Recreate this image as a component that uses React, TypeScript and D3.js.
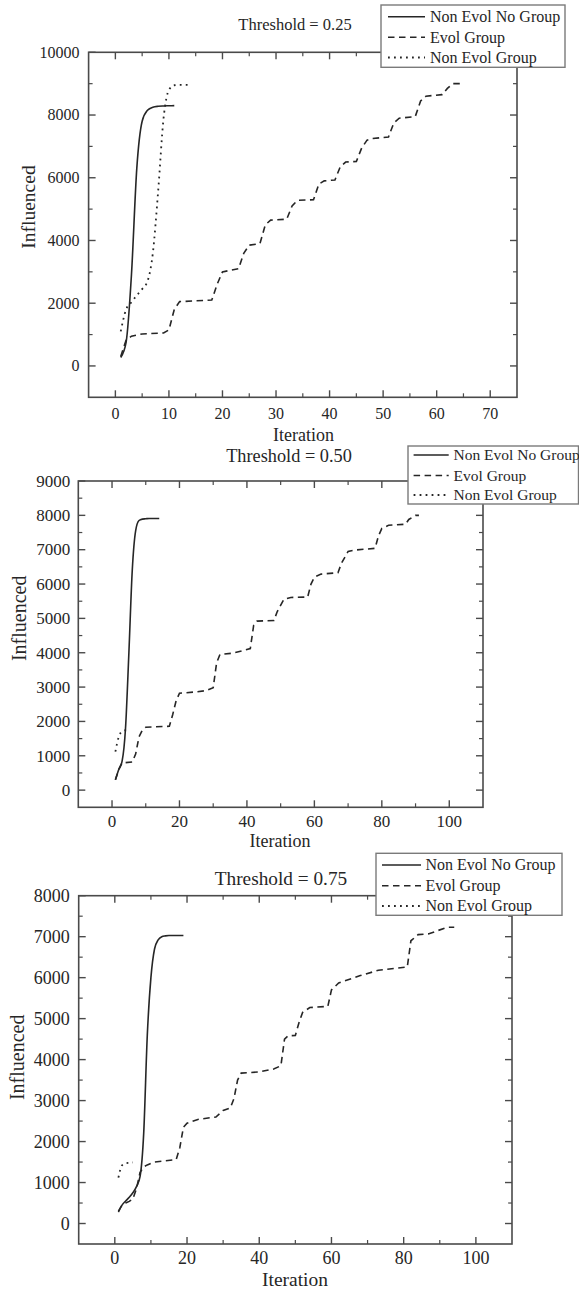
import React from 'react';
import * as d3 from 'd3';

const SERIES_NAMES = ['Non Evol No Group', 'Evol Group', 'Non Evol Group'];
const TITLES = ['Threshold = 0.25', 'Threshold = 0.50', 'Threshold = 0.75'];
const X_LABEL = 'Iteration';
const Y_LABEL = 'Influenced';

// ---------- Panel 1 : threshold 0.25 ----------
const p1SolidX = [1, 2, 3, 4, 5, 6, 7, 8, 9, 10, 11];
const p1SolidY = [270, 750, 2900, 6300, 7800, 8150, 8250, 8280, 8290, 8295, 8300];
const p1EvolX = [1, 2, 3, 5, 9, 10, 11, 12, 18, 19, 20, 23, 24, 25, 27, 28, 29, 32, 33, 34, 37, 38, 39, 41, 42, 43, 45, 46, 47, 48, 51, 52, 53, 56, 57, 58, 61, 62, 63, 65];
const p1EvolY = [300, 820, 950, 1020, 1050, 1150, 1800, 2050, 2100, 2600, 3000, 3100, 3600, 3850, 3900, 4500, 4650, 4680, 5100, 5280, 5300, 5800, 5900, 5930, 6350, 6500, 6520, 6950, 7200, 7250, 7300, 7750, 7900, 7950, 8450, 8600, 8650, 8850, 9000, 9000];
const p1DotX = [1, 2, 3, 4, 5, 6, 7, 8, 9, 10, 11, 12, 13, 14];
const p1DotY = [1100, 1800, 2030, 2250, 2450, 2700, 3600, 5600, 7900, 8800, 8950, 8960, 8960, 8960];
const p1XMajor = [0, 10, 20, 30, 40, 50, 60, 70];
const p1XMinor = [5, 15, 25, 35, 45, 55, 65];
const p1YMajor = [0, 2000, 4000, 6000, 8000, 10000];
const p1YMinor = [1000, 3000, 5000, 7000, 9000];

// ---------- Panel 2 : threshold 0.50 ----------
const p2SolidX = [1, 2, 3, 4, 5, 6, 7, 8, 9, 10, 11, 12, 13, 14];
const p2SolidY = [300, 600, 850, 1800, 4000, 6400, 7550, 7850, 7890, 7900, 7910, 7910, 7910, 7910];
const p2EvolX = [1, 2, 3, 4, 6, 7, 8, 9, 10, 17, 18, 19, 20, 25, 28, 30, 31, 32, 36, 41, 42, 43, 48, 49, 51, 53, 58, 59, 60, 62, 67, 68, 70, 72, 78, 79, 80, 82, 87, 88, 90, 91];
const p2EvolY = [300, 600, 800, 800, 820, 1050, 1550, 1750, 1830, 1860, 2200, 2600, 2820, 2860, 2900, 2980, 3700, 3950, 3990, 4120, 4800, 4920, 4940, 5200, 5560, 5610, 5620, 6000, 6200, 6290, 6330, 6600, 6950, 6990, 7040, 7400, 7620, 7710, 7740, 7880, 8000, 8000];
const p2DotX = [1, 2, 3, 4, 5];
const p2DotY = [1120, 1550, 1710, 1740, 1740];
const p2XMajor = [0, 20, 40, 60, 80, 100];
const p2XMinor = [10, 30, 50, 70, 90];
const p2YMajor = [0, 1000, 2000, 3000, 4000, 5000, 6000, 7000, 8000, 9000];
const p2YMinor = [500, 1500, 2500, 3500, 4500, 5500, 6500, 7500, 8500];

// ---------- Panel 3 : threshold 0.75 ----------
const p3SolidX = [1, 2, 3, 4, 5, 6, 7, 8, 9, 10, 11, 12, 13, 14, 15, 16, 17, 18, 19];
const p3SolidY = [280, 450, 550, 640, 750, 900, 1150, 2200, 4600, 6000, 6700, 6920, 7000, 7020, 7030, 7030, 7030, 7030, 7030];
const p3EvolX = [1, 2, 3, 4, 5, 6, 7, 8, 9, 11, 17, 18, 19, 20, 23, 28, 30, 32, 33, 34, 35, 40, 44, 46, 47, 48, 50, 51, 52, 54, 59, 60, 62, 68, 73, 81, 82, 84, 87, 92, 94];
const p3EvolY = [300, 450, 500, 540, 600, 850, 1250, 1380, 1430, 1500, 1560, 1850, 2350, 2450, 2540, 2600, 2760, 2820, 3050, 3500, 3670, 3700, 3770, 3850, 4500, 4580, 4590, 4900, 5150, 5270, 5300, 5700, 5870, 6050, 6180, 6260, 6900, 7050, 7070, 7230, 7230];
const p3DotX = [1, 2, 3, 4, 5];
const p3DotY = [1120, 1420, 1470, 1480, 1490];
const p3XMajor = [0, 20, 40, 60, 80, 100];
const p3XMinor = [10, 30, 50, 70, 90];
const p3YMajor = [0, 1000, 2000, 3000, 4000, 5000, 6000, 7000, 8000];
const p3YMinor = [500, 1500, 2500, 3500, 4500, 5500, 6500, 7500];

const FONT = '"Liberation Serif", "Times New Roman", Times, serif';
const INK = '#262626';
const FRAME = '#4a4a4a';

type Layout = {
  left: number; right: number; top: number; bottom: number;
  xDomain: [number, number]; yDomain: [number, number];
  tickFont: number; titleFont: number; labelFont: number; xLabelFont: number; legendFont: number;
  titleX: number; titleY: number;
  xLabelX: number; xLabelY: number; yLabelX: number; yLabelY: number;
  xTickY: number; yTickGap: number;
  legend: { x0: number; x1: number; y0: number; y1: number; s0: number; s1: number; tx: number; rows: number[] };
};

type PanelData = {
  title: string;
  solid: [number[], number[]]; evol: [number[], number[]]; dot: [number[], number[]];
  xMajor: number[]; xMinor: number[]; yMajor: number[]; yMinor: number[];
};

const panels: { d: PanelData; l: Layout }[] = [
  {
    d: { title: TITLES[0], solid: [p1SolidX, p1SolidY], evol: [p1EvolX, p1EvolY], dot: [p1DotX, p1DotY], xMajor: p1XMajor, xMinor: p1XMinor, yMajor: p1YMajor, yMinor: p1YMinor },
    l: {
      left: 88.6, right: 517, top: 52.3, bottom: 397.3, xDomain: [-5, 75], yDomain: [-1000, 10000],
      tickFont: 16, titleFont: 16.5, labelFont: 19.5, xLabelFont: 18, legendFont: 16,
      titleX: 295, titleY: 29.5, xLabelX: 303.5, xLabelY: 440.5, yLabelX: 35, yLabelY: 207,
      xTickY: 419, yTickGap: 9,
      legend: { x0: 381, x1: 565, y0: 5, y1: 67.3, s0: 388, s1: 425, tx: 430, rows: [16.7, 37.3, 57.5] },
    },
  },
  {
    d: { title: TITLES[1], solid: [p2SolidX, p2SolidY], evol: [p2EvolX, p2EvolY], dot: [p2DotX, p2DotY], xMajor: p2XMajor, xMinor: p2XMinor, yMajor: p2YMajor, yMinor: p2YMinor },
    l: {
      left: 78.3, right: 483, top: 481, bottom: 807.3, xDomain: [-10, 110], yDomain: [-500, 9000],
      tickFont: 17, titleFont: 18.3, labelFont: 20, xLabelFont: 18, legendFont: 15.5,
      titleX: 289, titleY: 461.7, xLabelX: 280, xLabelY: 847, yLabelX: 26, yLabelY: 618.3,
      xTickY: 826.7, yTickGap: 8,
      legend: { x0: 408, x1: 578.5, y0: 446, y1: 504, s0: 413.6, s1: 448.7, tx: 453.5, rows: [455, 475.5, 495] },
    },
  },
  {
    d: { title: TITLES[2], solid: [p3SolidX, p3SolidY], evol: [p3EvolX, p3EvolY], dot: [p3DotX, p3DotY], xMajor: p3XMajor, xMinor: p3XMinor, yMajor: p3YMajor, yMinor: p3YMinor },
    l: {
      left: 78.7, right: 512, top: 895.7, bottom: 1244, xDomain: [-10, 110], yDomain: [-500, 8000],
      tickFont: 18, titleFont: 19.3, labelFont: 20, xLabelFont: 19.5, legendFont: 16,
      titleX: 281, titleY: 885, xLabelX: 295, xLabelY: 1286, yLabelX: 24, yLabelY: 1057.3,
      xTickY: 1264.3, yTickGap: 9,
      legend: { x0: 376, x1: 562, y0: 853.3, y1: 915.3, s0: 382, s1: 421, tx: 425.4, rows: [865, 885.7, 906] },
    },
  },
];

const styles = [
  { dash: undefined as string | undefined, width: 1.6 },
  { dash: '6.5,4.5', width: 1.6 },
  { dash: '1.8,4.2', width: 1.8 },
];

function Panel({ d, l }: { d: PanelData; l: Layout }) {
  const x = d3.scaleLinear().domain(l.xDomain).range([l.left, l.right]);
  const y = d3.scaleLinear().domain(l.yDomain).range([l.bottom, l.top]);
  const mkLine = (curve: d3.CurveFactory) =>
    d3.line<[number, number]>().x((p) => x(p[0])).y((p) => y(p[1])).curve(curve);
  const zip = (s: [number[], number[]]) => s[0].map((v, i) => [v, s[1][i]] as [number, number]);
  const smooth = mkLine(d3.curveMonotoneX);
  const straight = mkLine(d3.curveLinear);
  const major = 7;
  const minor = 4;
  const lg = l.legend;
  return (
    <g fontFamily={FONT} fill={INK}>
      <path d={straight(zip(d.evol)) || ''} fill="none" stroke={INK} strokeWidth={styles[1].width} strokeDasharray={styles[1].dash} />
      <path d={smooth(zip(d.dot)) || ''} fill="none" stroke={INK} strokeWidth={styles[2].width} strokeDasharray={styles[2].dash} />
      <path d={smooth(zip(d.solid)) || ''} fill="none" stroke={INK} strokeWidth={styles[0].width} />
      <rect x={l.left} y={l.top} width={l.right - l.left} height={l.bottom - l.top} fill="none" stroke={FRAME} strokeWidth={1.6} />
      {d.xMajor.map((t) => (
        <g key={'xm' + t}>
          <line x1={x(t)} x2={x(t)} y1={l.bottom} y2={l.bottom - major} stroke={FRAME} strokeWidth={1.4} />
          <line x1={x(t)} x2={x(t)} y1={l.top} y2={l.top + major} stroke={FRAME} strokeWidth={1.4} />
          <text x={x(t)} y={l.xTickY} textAnchor="middle" fontSize={l.tickFont}>{t}</text>
        </g>
      ))}
      {d.xMinor.map((t) => (
        <g key={'xn' + t}>
          <line x1={x(t)} x2={x(t)} y1={l.bottom} y2={l.bottom - minor} stroke={FRAME} strokeWidth={1.2} />
          <line x1={x(t)} x2={x(t)} y1={l.top} y2={l.top + minor} stroke={FRAME} strokeWidth={1.2} />
        </g>
      ))}
      {d.yMajor.map((t) => (
        <g key={'ym' + t}>
          <line x1={l.left} x2={l.left + major} y1={y(t)} y2={y(t)} stroke={FRAME} strokeWidth={1.4} />
          <line x1={l.right} x2={l.right - major} y1={y(t)} y2={y(t)} stroke={FRAME} strokeWidth={1.4} />
          <text x={l.left - l.yTickGap} y={y(t)} dy="0.34em" textAnchor="end" fontSize={l.tickFont}>{t}</text>
        </g>
      ))}
      {d.yMinor.map((t) => (
        <g key={'yn' + t}>
          <line x1={l.left} x2={l.left + minor} y1={y(t)} y2={y(t)} stroke={FRAME} strokeWidth={1.2} />
          <line x1={l.right} x2={l.right - minor} y1={y(t)} y2={y(t)} stroke={FRAME} strokeWidth={1.2} />
        </g>
      ))}
      <text x={l.titleX} y={l.titleY} textAnchor="middle" fontSize={l.titleFont}>{d.title}</text>
      <text x={l.xLabelX} y={l.xLabelY} textAnchor="middle" fontSize={l.xLabelFont}>{X_LABEL}</text>
      <text transform={`translate(${l.yLabelX},${l.yLabelY}) rotate(-90)`} textAnchor="middle" fontSize={l.labelFont}>{Y_LABEL}</text>
      <rect x={lg.x0} y={lg.y0} width={lg.x1 - lg.x0} height={lg.y1 - lg.y0} fill="#fff" stroke="#7a7a7a" strokeWidth={1.4} />
      {SERIES_NAMES.map((name, i) => (
        <g key={name}>
          <line x1={lg.s0} x2={lg.s1} y1={lg.rows[i]} y2={lg.rows[i]} stroke={INK} strokeWidth={styles[i].width} strokeDasharray={styles[i].dash} />
          <text x={lg.tx} y={lg.rows[i]} dy="0.33em" fontSize={l.legendFont}>{name}</text>
        </g>
      ))}
    </g>
  );
}

export default function App() {
  return (
    <svg width={579} height={1292} style={{ position: 'absolute', left: 0, top: 0, background: '#fff' }}>
      <rect x={0} y={0} width={579} height={1292} fill="#fff" />
      {panels.map((p, i) => (
        <Panel key={i} d={p.d} l={p.l} />
      ))}
    </svg>
  );
}
